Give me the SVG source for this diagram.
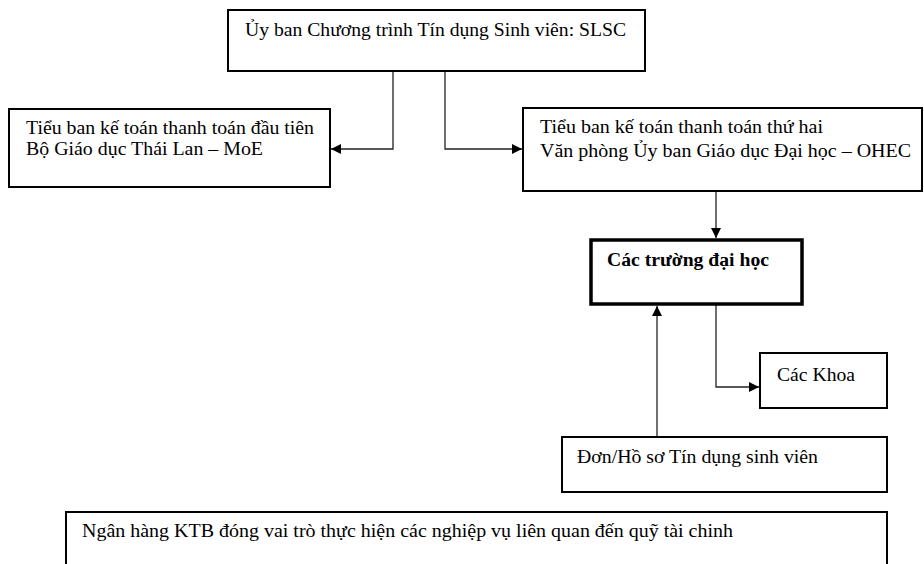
<svg xmlns="http://www.w3.org/2000/svg" width="924" height="564" viewBox="0 0 924 564">
<style>
.box{fill:#fff;stroke:#000;stroke-width:2}
.thick{stroke-width:3.5}
.t{font-family:"Liberation Serif","Times New Roman",serif;font-size:18px;fill:#000}
.b{font-weight:bold}
.c{fill:none;stroke:#222;stroke-width:1.3}
</style>
<defs>
<marker id="ah" viewBox="0 0 10 10" refX="10" refY="5" markerWidth="10" markerHeight="10" markerUnits="userSpaceOnUse" orient="auto">
<path d="M0,0 L10,5 L0,10 Z" fill="#000"/>
</marker>
</defs>
<rect width="924" height="564" fill="#fff"/>
<g id="connectors">
<path class="c" d="M393,71 V149 H331" marker-end="url(#ah)"/>
<path class="c" d="M445,71 V149 H522" marker-end="url(#ah)"/>
<path class="c" d="M716,191 V238" marker-end="url(#ah)"/>
<path class="c" d="M657,437 V306" marker-end="url(#ah)"/>
<path class="c" d="M716,305 V387 H759" marker-end="url(#ah)"/>
</g>
<g id="slsc">
<rect class="box" x="228" y="10" width="417" height="61"/>
<text class="t" x="245" y="36" textLength="381" lengthAdjust="spacingAndGlyphs">Ủy ban Chương trình Tín dụng Sinh viên: SLSC</text>
</g>
<g id="moe">
<rect class="box" x="9" y="109" width="321" height="78"/>
<text class="t" x="26" y="134" textLength="288" lengthAdjust="spacingAndGlyphs">Tiểu ban kế toán thanh toán đầu tiên</text>
<text class="t" x="26" y="155" textLength="237" lengthAdjust="spacingAndGlyphs">Bộ Giáo dục Thái Lan – MoE</text>
</g>
<g id="ohec">
<rect class="box" x="523" y="108" width="399" height="83"/>
<text class="t" x="540" y="133" textLength="283" lengthAdjust="spacingAndGlyphs">Tiểu ban kế toán thanh toán thứ hai</text>
<text class="t" x="540" y="157" textLength="371" lengthAdjust="spacingAndGlyphs">Văn phòng Ủy ban Giáo dục Đại học – OHEC</text>
</g>
<g id="universities">
<rect class="box thick" x="591" y="240" width="211" height="64"/>
<text class="t b" x="607" y="266" textLength="162" lengthAdjust="spacingAndGlyphs">Các trường đại học</text>
</g>
<g id="faculties">
<rect class="box" x="760" y="353" width="127" height="55"/>
<text class="t" x="777" y="381" textLength="78" lengthAdjust="spacingAndGlyphs">Các Khoa</text>
</g>
<g id="application">
<rect class="box" x="562" y="437" width="325" height="55"/>
<text class="t" x="577" y="463" textLength="241" lengthAdjust="spacingAndGlyphs">Đơn/Hồ sơ Tín dụng sinh viên</text>
</g>
<g id="ktb">
<rect class="box" x="66" y="512" width="821" height="70"/>
<text class="t" x="82" y="537" textLength="651" lengthAdjust="spacingAndGlyphs">Ngân hàng KTB  đóng vai trò thực hiện các nghiệp vụ liên quan đến quỹ tài chinh</text>
</g>
</svg>
